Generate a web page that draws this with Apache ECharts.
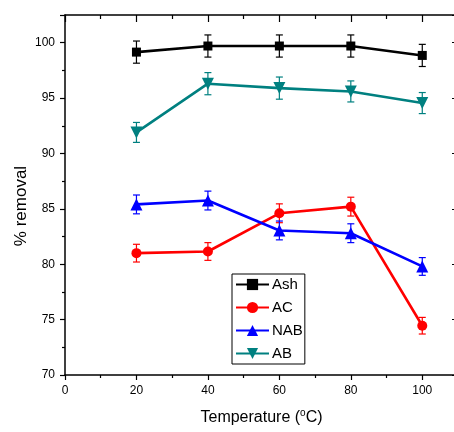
<!DOCTYPE html>
<html>
<head>
<meta charset="utf-8">
<script src="https://cdn.jsdelivr.net/npm/echarts@6/dist/echarts.min.js"></script>
<style>
html,body{margin:0;padding:0;background:#fff;}
#c{width:454px;height:432px;}
</style>
</head>
<body>
<div id="c"></div>
<script>
const temps = [20, 40, 60, 80, 100];
const ash = [99.15, 99.7, 99.7, 99.7, 98.85];
const ashErr = [1.0, 1.0, 1.0, 1.0, 1.0];
const ac = [81.0, 81.15, 84.6, 85.2, 74.45];
const acErr = [0.8, 0.8, 0.85, 0.85, 0.75];
const nab = [85.4, 85.75, 83.05, 82.8, 79.8];
const nabErr = [0.85, 0.85, 0.85, 0.85, 0.8];
const ab = [91.9, 96.3, 95.9, 95.6, 94.55];
const abErr = [0.9, 1.0, 1.0, 0.95, 0.95];
const xTicks = { min: 0, max: 110, interval: 20 };
const yTicks = { min: 70, max: 102.5, interval: 5 };

const FONT = 'Liberation Sans, Arial, sans-serif';

function errSeries(name, vals, errs, color) {
  return {
    type: 'custom',
    name: name + ' err',
    xAxisIndex: 0, yAxisIndex: 0,
    z: 4,
    silent: true,
    data: temps.map((t, i) => [t, vals[i], errs[i]]),
    renderItem: function (params, api) {
      const x = api.value(0), y = api.value(1), e = api.value(2);
      const top = api.coord([x, y + e]);
      const bot = api.coord([x, y - e]);
      const hw = 3.5;
      const st = { stroke: color, lineWidth: 1.2 };
      return {
        type: 'group',
        children: [
          { type: 'line', shape: { x1: top[0], y1: top[1], x2: bot[0], y2: bot[1] }, style: st },
          { type: 'line', shape: { x1: top[0] - hw, y1: top[1], x2: top[0] + hw, y2: top[1] }, style: st },
          { type: 'line', shape: { x1: bot[0] - hw, y1: bot[1], x2: bot[0] + hw, y2: bot[1] }, style: st }
        ]
      };
    }
  };
}

function lineSeries(name, vals, color, symbol, size, rot) {
  return {
    type: 'line',
    name: name,
    xAxisIndex: 0, yAxisIndex: 0,
    z: 3,
    data: temps.map((t, i) => [t, vals[i]]),
    symbol: symbol,
    symbolSize: size,
    symbolRotate: rot || 0,
    showAllSymbol: true,
    lineStyle: { color: color, width: 2.6 },
    itemStyle: { color: color },
    emphasis: { disabled: true },
    animation: false
  };
}

const axisLineStyle = { show: true, onZero: false, lineStyle: { color: '#000', width: 1.5 } };

const chart = echarts.init(document.getElementById('c'));
chart.setOption({
  animation: false,
  backgroundColor: '#fff',
  grid: { left: 65, right: -4, top: 15, bottom: 57, containLabel: false, outerBoundsMode: 'none' },
  legend: {
    orient: 'vertical',
    left: 232, top: 274,
    itemWidth: 33, itemHeight: 14, itemGap: 8,
    padding: [3, 2, 3, 3],
    borderColor: '#000', borderWidth: 1,
    textStyle: { fontFamily: FONT, fontSize: 15, color: '#000', padding: [0, 0, 0, -2] },
    data: ['Ash', 'AC', 'NAB', 'AB']
  },
  xAxis: [
    {
      type: 'value', position: 'bottom',
      min: xTicks.min, max: xTicks.max, interval: xTicks.interval,
      axisLine: axisLineStyle,
      axisTick: { show: true, inside: false, length: 5, lineStyle: { color: '#000', width: 1.2 } },
      minorTick: { show: true, splitNumber: 2, length: 3, lineStyle: { color: '#000', width: 1.2 } },
      splitLine: { show: false },
      axisLabel: { fontFamily: FONT, fontSize: 12, color: '#000', margin: 10, showMaxLabel: false },
      name: 'Temperature ({sup|o}C)',
      nameLocation: 'middle',
      nameGap: 33,
      nameTextStyle: {
        fontFamily: FONT, fontSize: 16, color: '#000',
        rich: { sup: { fontFamily: FONT, fontSize: 10, color: '#000', verticalAlign: 'top', padding: [0, 0, 9, 0] } }
      }
    },
    {
      type: 'value', position: 'top',
      min: xTicks.min, max: xTicks.max, interval: xTicks.interval,
      axisLine: axisLineStyle,
      axisTick: { show: true, inside: true, length: 7, lineStyle: { color: '#000', width: 1.2 } },
      minorTick: { show: true, splitNumber: 2, length: 4, lineStyle: { color: '#000', width: 1.2 } },
      splitLine: { show: false },
      axisLabel: { show: false }
    }
  ],
  yAxis: [
    {
      type: 'value', position: 'left',
      min: yTicks.min, max: yTicks.max, interval: yTicks.interval,
      axisLine: axisLineStyle,
      axisTick: { show: true, inside: false, length: 5, lineStyle: { color: '#000', width: 1.2 } },
      minorTick: { show: true, splitNumber: 2, length: 3, lineStyle: { color: '#000', width: 1.2 } },
      splitLine: { show: false },
      axisLabel: { fontFamily: FONT, fontSize: 12, color: '#000', margin: 10, showMaxLabel: false },
      name: '% removal',
      nameLocation: 'middle',
      nameGap: 35,
      nameMoveOverlap: false,
      nameRotate: 90,
      nameTextStyle: { fontFamily: FONT, fontSize: 17, color: '#000', padding: [0, 22, 0, 0] }
    },
    {
      type: 'value', position: 'right',
      min: yTicks.min, max: yTicks.max, interval: yTicks.interval,
      axisLine: axisLineStyle,
      axisTick: { show: true, inside: true, length: 6, lineStyle: { color: '#000', width: 1.2 } },
      minorTick: { show: true, splitNumber: 2, length: 4, lineStyle: { color: '#000', width: 1.2 } },
      splitLine: { show: false },
      axisLabel: { show: false }
    }
  ],
  series: [
    errSeries('Ash', ash, ashErr, '#000000'),
    errSeries('AC', ac, acErr, '#ff0000'),
    errSeries('NAB', nab, nabErr, '#0000ff'),
    errSeries('AB', ab, abErr, '#008080'),
    lineSeries('Ash', ash, '#000000', 'rect', 9),
    lineSeries('AC', ac, '#ff0000', 'circle', 10),
    lineSeries('NAB', nab, '#0000ff', 'triangle', 12),
    lineSeries('AB', ab, '#008080', 'triangle', 12, 180)
  ]
});
</script>
</body>
</html>
